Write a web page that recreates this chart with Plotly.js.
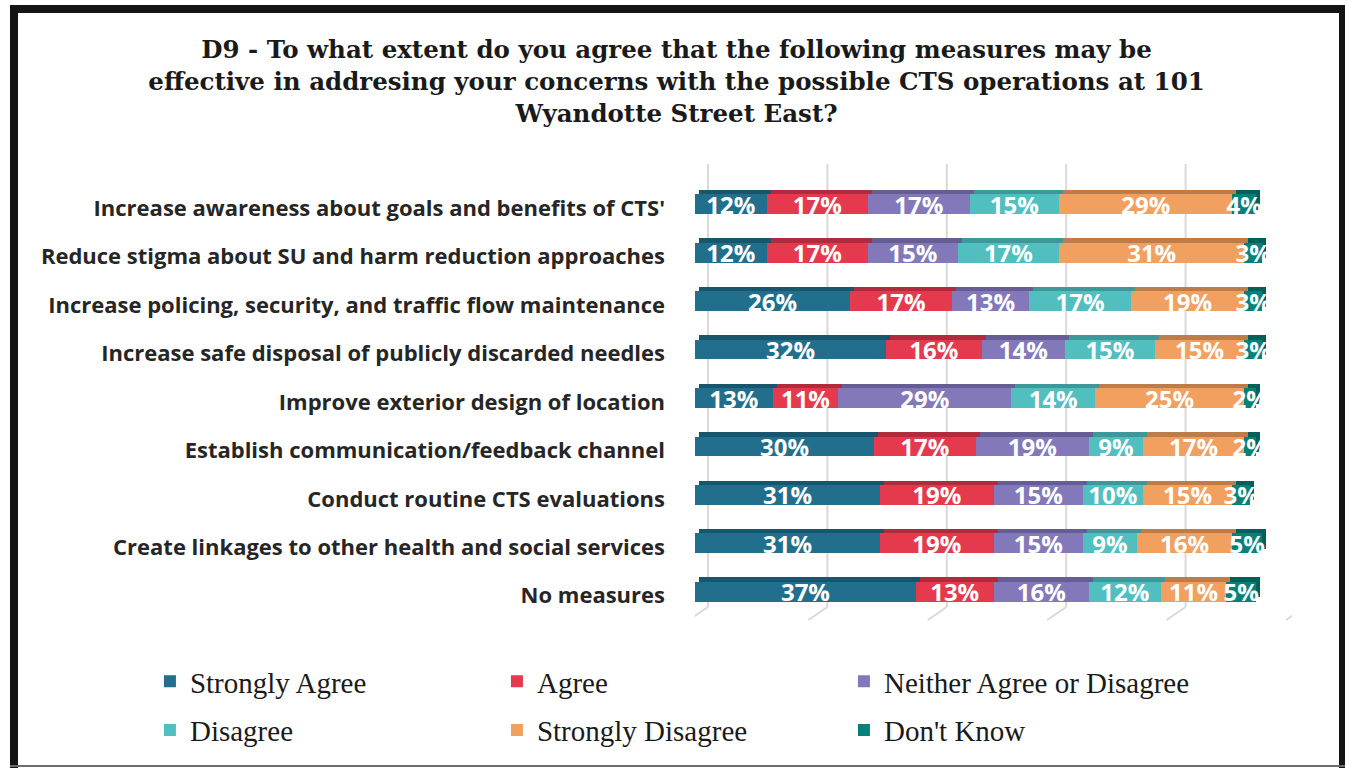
<!DOCTYPE html>
<html>
<head>
<meta charset="utf-8">
<script src="https://cdn.plot.ly/plotly-3.0.1.min.js"></script>
<style>
  html, body { margin:0; padding:0; width:1345px; height:768px; overflow:hidden; background:#fff; }
  #chart { position:absolute; left:0; top:0; width:1345px; height:768px; }
  #frame { position:absolute; left:10px; top:5px; width:1337px; height:790px; box-sizing:border-box;
           border:8px solid #141414; pointer-events:none; }
  #bottomline { position:absolute; left:10px; top:765px; width:1337px; height:2px; background:#6b6b6b; pointer-events:none; }
</style>
</head>
<body>
<div id="chart"></div>
<div id="frame"></div>
<div id="bottomline"></div>
<script>
// ---- data (percent) ----
const categories = [
  "Increase awareness about goals and benefits of CTS'",
  "Reduce stigma about SU and harm reduction approaches",
  "Increase policing, security, and traffic flow maintenance",
  "Increase safe disposal of publicly discarded needles",
  "Improve exterior design of location",
  "Establish communication/feedback channel",
  "Conduct routine CTS evaluations",
  "Create linkages to other health and social services",
  "No measures"
];
const seriesNames = ["Strongly Agree", "Agree", "Neither Agree or Disagree", "Disagree", "Strongly Disagree", "Don't Know"];
const stronglyAgree    = [12, 12, 26, 32, 13, 30, 31, 31, 37];
const agree            = [17, 17, 17, 16, 11, 17, 19, 19, 13];
const neither          = [17, 15, 13, 14, 29, 19, 15, 15, 16];
const disagree         = [15, 17, 17, 15, 14,  9, 10,  9, 12];
const stronglyDisagree = [29, 31, 19, 15, 25, 17, 15, 16, 11];
const dontKnow         = [ 4,  3,  3,  3,  2,  2,  3,  5,  5];

// ---- styles ----
const frontColors = ["#216F8C", "#E5394D", "#8379BA", "#51BEC0", "#F1A05F", "#04827A"];
const topColors   = ["#18566D", "#B02C3C", "#665D95", "#3E9899", "#BC7D4A", "#01605A"];
const allValues = [stronglyAgree, agree, neither, disagree, stronglyDisagree, dontKnow];

const traces = [];
// back (top-face / side-face) bars: drawn first, on shifted axes
allValues.forEach((vals, i) => {
  traces.push({
    type: 'bar', orientation: 'h', x: vals, y: categories,
    xaxis: 'x', yaxis: 'y', width: 0.41,
    marker: { color: topColors[i], line: { width: 0 } },
    showlegend: false, hoverinfo: 'skip', name: seriesNames[i] + ' depth'
  });
});
// front faces
allValues.forEach((vals, i) => {
  traces.push({
    type: 'bar', orientation: 'h', x: vals, y: categories,
    xaxis: 'x2', yaxis: 'y2', width: 0.41,
    name: seriesNames[i],
    legend: i < 3 ? 'legend' : 'legend2',
    marker: { color: frontColors[i], line: { width: 0 } },
    texttemplate: '%{x}%', textposition: 'inside', insidetextanchor: 'middle',
    constraintext: 'none', textangle: 0,
    textfont: { family: 'Open Sans', size: 24, color: '#ffffff', weight: 700 },
    cliponaxis: false
  });
});

const xRange = [0, 100];
const yRange = [categories.length - 0.5, -0.5];
const dx = 0.67;   // depth shift (value units)
const dy = 0.0914; // depth shift (category units)

// gridlines drawn in 3D style (back wall + floor)
const shapes = [];
for (let v = xRange[0]; v <= xRange[1]; v += 20) {
  shapes.push({ type: 'line', layer: 'below', xref: 'x2', yref: 'paper',
    xsizemode: 'pixel', xanchor: v, x0: 13, x1: 13,
    ysizemode: 'pixel', yanchor: 0, y0: 9, y1: 452,
    line: { color: '#D9D9D9', width: 2 } });
  shapes.push({ type: 'line', layer: 'below', xref: 'x2', yref: 'paper',
    xsizemode: 'pixel', xanchor: v, x0: 13, x1: -6,
    ysizemode: 'pixel', yanchor: 0, y0: 9, y1: -4,
    line: { color: '#D9D9D9', width: 2 } });
}

const legendFont = { family: 'Liberation Serif', size: 29, color: '#1a1a1a' };

const layout = {
  width: 1345, height: 768,
  margin: { l: 695, r: 53, t: 180, b: 144 },
  paper_bgcolor: '#ffffff', plot_bgcolor: 'rgba(0,0,0,0)',
  barmode: 'stack',
  title: {
    text: 'D9 - To what extent do you agree that the following measures may be<br>effective in addresing your concerns with the possible CTS operations at 101<br>Wyandotte Street East?',
    font: { family: 'DejaVu Serif', size: 24.5, color: '#1a1a1a', weight: 700 },
    xref: 'container', x: 0.503, xanchor: 'center',
    yref: 'container', y: 1 - 58 / 768, yanchor: 'top'
  },
  xaxis: { range: [xRange[0] - dx, xRange[1] - dx], showgrid: false, zeroline: false,
           showticklabels: false, showline: false, ticks: '', fixedrange: true },
  yaxis: { type: 'category', categoryorder: 'array', categoryarray: categories,
           range: [yRange[0] + dy, yRange[1] + dy], showgrid: false, zeroline: false,
           showticklabels: false, showline: false, ticks: '' },
  xaxis2: { overlaying: 'x', range: xRange, showgrid: false, zeroline: false,
            showticklabels: false, showline: false, ticks: '' },
  yaxis2: { overlaying: 'y', side: 'left', type: 'category', categoryorder: 'array', categoryarray: categories,
            range: yRange, showgrid: false, zeroline: false, showline: false, ticks: '',
            ticklabelstandoff: 29, ticklabelshift: -4,
            tickfont: { family: 'Open Sans', size: 22, color: '#262626', weight: 700 } },
  legend: { orientation: 'h', x: -0.913, xanchor: 'left', y: -0.150, yanchor: 'middle',
            entrywidth: 302, entrywidthmode: 'pixels', traceorder: 'normal',
            font: legendFont, bgcolor: 'rgba(0,0,0,0)' },
  legend2: { orientation: 'h', x: -0.913, xanchor: 'left', y: -0.262, yanchor: 'middle',
            entrywidth: 302, entrywidthmode: 'pixels', traceorder: 'normal',
            font: legendFont, bgcolor: 'rgba(0,0,0,0)' },
  shapes: shapes,
  hovermode: false
};

Plotly.newPlot('chart', traces, layout, { displayModeBar: false, staticPlot: true });
</script>
</body>
</html>
